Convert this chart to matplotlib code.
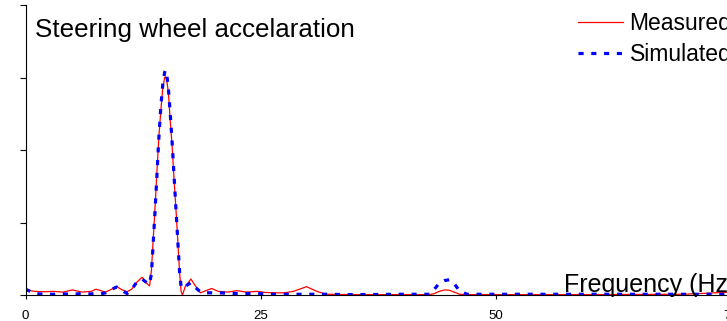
import numpy as np
import matplotlib as mpl
mpl.use("Agg")
import matplotlib.pyplot as plt

## data: frequency (Hz) and spectrum amplitude
freq = [0.0, 0.5, 1.0, 2.0, 3.0, 4.0, 5.0, 6.0, 7.0, 7.5, 8.0, 8.5, 9.0, 9.7,
        10.3, 10.8, 11.3, 11.8, 12.4, 12.9, 13.2, 13.4, 13.6, 13.8, 14.0, 14.2,
        14.4, 14.6, 14.8, 14.9, 15.0, 15.2, 15.4, 15.6, 15.8, 16.0, 16.2, 16.4,
        16.55, 16.7, 17.0, 17.6, 18.1, 18.6, 19.2, 19.8, 20.5, 21.5, 22.5, 23.5,
        24.7, 25.5, 26.5, 27.5, 28.5, 29.9, 31.0, 32.0, 35.0, 40.0, 43.0, 43.5,
        44.0, 44.6, 45.1, 45.6, 46.2, 47.0, 55.0, 60.0, 70.0, 75.0, 80.0]
measured = [0.08, 0.06, 0.05, 0.045, 0.05, 0.04, 0.07, 0.04, 0.05, 0.08, 0.06,
            0.04, 0.07, 0.115, 0.07, 0.045, 0.08, 0.17, 0.245, 0.16, 0.125,
            0.35, 0.8, 1.25, 1.75, 2.2, 2.55, 2.85, 3.0, 3.01, 2.98, 2.8, 2.4,
            2.05, 1.6, 1.2, 0.75, 0.3, 0.05, 0.0, 0.12, 0.22, 0.12, 0.03, 0.06,
            0.09, 0.05, 0.04, 0.06, 0.04, 0.05, 0.035, 0.03, 0.03, 0.05, 0.115,
            0.05, 0.01, 0.005, 0.005, 0.005, 0.02, 0.05, 0.07, 0.065, 0.04,
            0.01, 0.005, 0.005, 0.005, 0.01, 0.04, 0.04]
simulated = [0.08, 0.05, 0.02, 0.01, 0.01, 0.015, 0.01, 0.02, 0.015, 0.02, 0.015,
             0.03, 0.07, 0.11, 0.06, 0.02, 0.08, 0.17, 0.22, 0.17, 0.15, 0.30,
             0.75, 1.2, 1.7, 2.2, 2.6, 2.9, 3.07, 3.1, 3.07, 2.85, 2.5, 2.1,
             1.65, 1.2, 0.75, 0.3, 0.12, 0.09, 0.12, 0.17, 0.1, 0.045, 0.03,
             0.03, 0.03, 0.025, 0.02, 0.02, 0.02, 0.015, 0.01, 0.01, 0.01, 0.01,
             0.01, 0.01, 0.005, 0.01, 0.01, 0.08, 0.16, 0.2, 0.21, 0.16, 0.05,
             0.01, 0.01, 0.01, 0.01, 0.01, 0.01]
xticks = [0, 25, 50, 75]
yticks = [0, 1, 2, 3, 4]

## basic settings
plt.rcParams['font.family'] = ['Liberation Sans', 'DejaVu Sans']
W, H = 727, 321

fig = plt.figure(figsize=(W / 100, H / 100), dpi=100)
# axes run past the right edge of the picture, like the cropped original
ax = fig.add_axes([25.5 / W, 26 / H, 940 / W, 290 / H])

ax.plot(freq, measured, color='red', lw=0.9, label='Measured')
ax.plot(freq, simulated, color='blue', lw=2.3, linestyle=(0, (1.6, 2.4)),
        label='Simulated')

ax.set_xlim(0, 100)
ax.set_ylim(0, 4)
ax.set_xticks(xticks)
ax.set_yticks(yticks)
ax.set_yticklabels([])
ax.tick_params(axis='x', direction='out', length=3, width=0.8, labelsize=9.5, pad=8)
ax.tick_params(axis='y', direction='out', length=4, width=0.8)
for s in ['top', 'right']:
    ax.spines[s].set_visible(False)
for s in ['left', 'bottom']:
    ax.spines[s].set_linewidth(0.8)

fig.text(35 / W, 1 - 36.5 / H, 'Steering wheel accelaration', fontsize=18.7,
         va='baseline', ha='left')
fig.text(564 / W, 1 - 292 / H, 'Frequency (Hz)', fontsize=18,
         va='baseline', ha='left')

ax.legend(loc='upper left', bbox_to_anchor=(578 / W, 1 - 12 / H),
          bbox_transform=fig.transFigure, frameon=False, fontsize=16.5,
          handlelength=1.95, handletextpad=0.3, labelspacing=0.33,
          borderpad=0, borderaxespad=0)

plt.savefig('out.png', dpi=100)
plt.close(fig)
